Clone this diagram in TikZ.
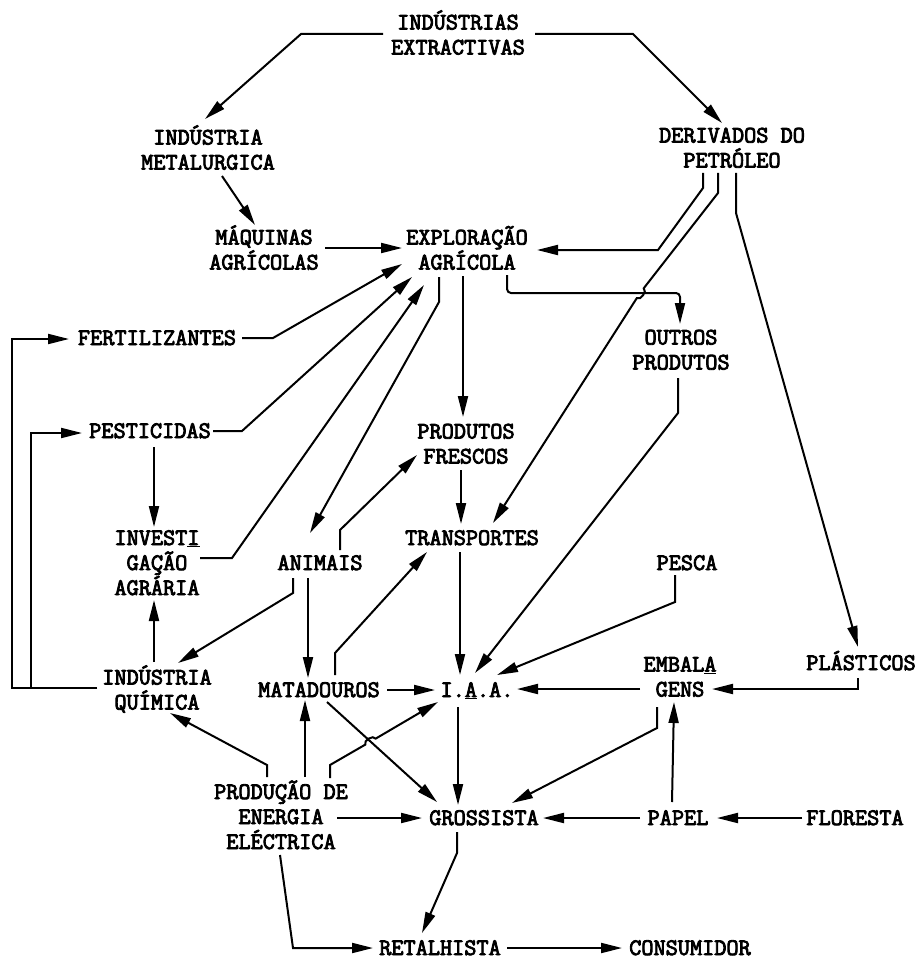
\documentclass[tikz,border=0pt]{standalone}
\usepackage{fontspec}
\newfontfamily\tw{Latin Modern Mono}[FakeBold=3.5]
\usetikzlibrary{arrows.meta,calc}
\newcommand\ls{\rule[-5.5pt]{0pt}{25pt}}
\tikzset{
  lbl/.style={font=\tw\fontsize{23.6}{25}\selectfont, align=center, inner sep=0pt, anchor=center},
  con/.style={line width=2pt, -{Triangle[length=21pt,width=10pt]}},
}
\begin{document}
\begin{tikzpicture}[x=1pt,y=-1pt]
\useasboundingbox[fill=white] (0,0) rectangle (921,960);
% nodes
\node[lbl] (ext) at (458,35) {\ls INDÚSTRIAS\\\ls EXTRACTIVAS};
\node[lbl] (met) at (208,150) {\ls INDÚSTRIA\\\ls METALURGICA};
\node[lbl] (der) at (732,148) {\ls DERIVADOS DO\\\ls PETRÓLEO};
\node[lbl] (maq) at (264,250) {\ls MÁQUINAS\\\ls AGRÍCOLAS};
\node[lbl] (expl) at (467,250) {\ls EXPLORAÇÃO\\\ls AGRÍCOLA};
\node[lbl] (outr) at (681,350) {\ls OUTROS\\\ls PRODUTOS};
\node[lbl] (fert) at (157,338) {\ls FERTILIZANTES};
\node[lbl] (pest) at (150,431) {\ls PESTICIDAS};
\node[lbl] (fres) at (466,444) {\ls PRODUTOS\\\ls FRESCOS};
\node[lbl] (inv) at (157,563) {\ls INVEST\underline{I}\\\ls GAÇÃO\\\ls AGRÁRIA};
\node[lbl] (anim) at (320,563) {\ls ANIMAIS};
\node[lbl] (trans) at (472,538) {\ls TRANSPORTES};
\node[lbl] (pesca) at (687,563) {\ls PESCA};
\node[lbl] (quim) at (157,690) {\ls INDÚSTRIA\\\ls QUÍMICA};
\node[lbl] (mat) at (319,690) {\ls MATADOUROS};
\node[lbl] (iaa) at (477,690) {\ls I.\underline{A}.A.};
\node[lbl] (emb) at (680,677) {\ls EMBAL\underline{A}\\\ls GENS};
\node[lbl] (plast) at (861,663) {\ls PLÁSTICOS};
\node[lbl] (prod) at (281,817) {\ls PRODUÇÃO DE\\\ls ENERGIA\\\ls ELÉCTRICA};
\node[lbl] (gros) at (484,818) {\ls GROSSISTA};
\node[lbl] (papel) at (678,818) {\ls PAPEL};
\node[lbl] (flor) at (855,818) {\ls FLORESTA};
\node[lbl] (ret) at (440,948) {\ls RETALHISTA};
\node[lbl] (cons) at (690,948) {\ls CONSUMIDOR};
% connectors
\draw[con] ($(ext)+(-75,-1)$) -- (301,34) -- ($(met)+(-3,-31)$);
\draw[con] ($(ext)+(77,-1)$) -- (633,34) -- ($(der)+(-10,-25)$);
\draw[con] ($(met)+(14,26)$) -- ($(maq)+(-9,-25)$);
\draw[con] ($(maq)+(61,-2)$) -- ($(expl)+(-65,-2)$);
\draw[con] ($(der)+(-29,25)$) -- (703,188) -- (658,250) -- ($(expl)+(70,0)$);
\draw[con, rounded corners=4pt] ($(expl)+(40,25)$) -- (507,293) -- (680,293) -- ($(outr)+(-1,-26)$);
\draw[con] ($(der)+(-14,25)$) -- (718,193) -- (643.7,288.3) to[bend left=90] (636.8,298.1) -- ($(trans)+(21,-15)$);
\draw[con] ($(der)+(4,25)$) -- (736,213) -- ($(plast)+(-3,-16)$);
\draw[con] ($(expl)+(-4,26)$) -- ($(fres)+(-3,-27)$);
\draw[con] ($(fert)+(85,0)$) -- (273,338) -- ($(expl)+(-65,14)$);
\draw[con] ($(pest)+(63,0)$) -- (242,431) -- ($(expl)+(-55,27)$);
\draw[con] ($(inv)+(43,-5)$) -- (232,558) -- ($(expl)+(-43,35)$);
\draw[con] ($(expl)+(-28,27)$) -- (439,302) -- ($(anim)+(-10,-30)$);
\draw[con] ($(pest)+(4,16)$) -- ($(inv)+(-3,-36)$);
\draw[con] ($(quim)+(-3,-28)$) -- ($(inv)+(-3,37)$);
\draw[con] ($(quim)+(-60,-2)$) -- (12,688) -- (12,339) -- ($(fert)+(-88,1)$);
\draw[con] ($(quim)+(-60,-2)$) -- (31,688) -- (31,433) -- ($(pest)+(-68,2)$);
\draw[con] ($(anim)+(-27,15)$) -- (293,593) -- ($(quim)+(21,-27)$);
\draw[con] ($(anim)+(20,-13)$) -- (340,530) -- ($(fres)+(-49,11)$);
\draw[con] ($(anim)+(-12,15)$) -- ($(mat)+(-11,-12)$);
\draw[con] ($(fres)+(-5,26)$) -- ($(trans)+(-11,-14)$);
\draw[con] ($(trans)+(-12,14)$) -- ($(iaa)+(-17,-15)$);
\draw[con] ($(mat)+(16,-15)$) -- (335,653) -- ($(trans)+(-45,14)$);
\draw[con] ($(mat)+(68,0)$) -- ($(iaa)+(-42,0)$);
\draw[con] ($(mat)+(8,12)$) -- ($(gros)+(-47,-16)$);
\draw[con] ($(prod)+(24,-40)$) -- ($(mat)+(-14,10)$);
\draw[con] ($(prod)+(49,-39)$) -- (330,765) -- (365.3,744.6) to[bend left=90] (375.7,738.6) -- ($(iaa)+(-39,12)$);
\draw[con] ($(prod)+(-14,-40)$) -- (267,765) -- ($(quim)+(13,23)$);
\draw[con] ($(prod)+(56,1)$) -- ($(gros)+(-62,0)$);
\draw[con] ($(prod)+(-1,38)$) -- (293,948) -- ($(ret)+(-67,0)$);
\draw[con] ($(iaa)+(-19,17)$) -- ($(gros)+(-26,-13)$);
\draw[con] ($(gros)+(-27,14)$) -- (457,853) -- ($(ret)+(-18,-15)$);
\draw[con] ($(ret)+(67,0)$) -- ($(cons)+(-68,0)$);
\draw[con] ($(outr)+(-3,28)$) -- (678,413) -- ($(iaa)+(-2,-17)$);
\draw[con] ($(pesca)+(-12,12)$) -- (675,602) -- ($(iaa)+(20,-15)$);
\draw[con] ($(emb)+(-40,12)$) -- ($(iaa)+(40,-1)$);
\draw[con] ($(plast)+(-3,15)$) -- (858,689) -- ($(emb)+(32,12)$);
\draw[con] ($(emb)+(-23,30)$) -- (657,728) -- ($(gros)+(28,-15)$);
\draw[con] ($(papel)+(-6,-16)$) -- ($(emb)+(-6,25)$);
\draw[con] ($(papel)+(-38,0)$) -- ($(gros)+(59,0)$);
\draw[con] ($(flor)+(-53,0)$) -- ($(papel)+(39,0)$);
\end{tikzpicture}
\end{document}
